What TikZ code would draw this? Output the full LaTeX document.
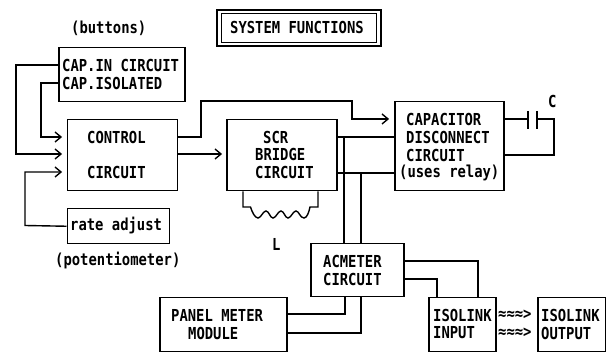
\documentclass[tikz,border=0pt]{standalone}
\usepackage{fontspec}
\usetikzlibrary{calc}
\setmonofont[FakeStretch=0.84]{DejaVu Sans Mono}
\begin{document}
\begin{tikzpicture}[x=1pt,y=-1pt,
  box/.style={draw=black,line width=1.5pt,fill=none,minimum width=0pt,inner sep=0pt},
  wire/.style={draw=black,line width=1.4pt,line join=miter},
  lbl/.style={font=\ttfamily\bfseries\fontsize{16.5}{16.5}\selectfont,anchor=west,inner sep=0pt,text=black},
  tip/.style={draw=black,line width=1.4pt}]
\useasboundingbox (0,0) rectangle (606,352);
% boxes
\node[box,minimum width=126pt,minimum height=54pt,anchor=north west] (btn) at (58,47) {};
\node[box,minimum width=110pt,minimum height=71pt,anchor=north west] (ctl) at (66.5,119) {};
\node[box,minimum width=110pt,minimum height=71pt,anchor=north west] (scr) at (226,119) {};
\node[box,minimum width=109pt,minimum height=89pt,anchor=north west] (cap) at (394,101) {};
\node[box,minimum width=102pt,minimum height=35pt,anchor=north west] (rate) at (66.5,208) {};
\node[box,minimum width=127pt,minimum height=54pt,anchor=north west] (panel) at (159,297) {};
\node[box,minimum width=93pt,minimum height=53pt,anchor=north west] (ac) at (310,243) {};
\node[box,minimum width=67pt,minimum height=54pt,anchor=north west] (isoi) at (428,297) {};
\node[box,minimum width=68pt,minimum height=54pt,anchor=north west] (isoo) at (537,297) {};
% title double box
\node[draw=black,line width=2pt,inner sep=0pt,minimum width=164pt,minimum height=36pt,anchor=north west] (ttl) at (216,9.5) {};
\node[draw=black,line width=1.2pt,inner sep=0pt,minimum width=155pt,minimum height=29pt,anchor=north west] (ttli) at (220.5,13) {};
% texts
\node[lbl] (t0) at (230,27.5) {SYSTEM FUNCTIONS};
\node[lbl] (t1) at (71,28.5) {(buttons)};
\node[lbl] (t2) at (62,65) {CAP.IN CIRCUIT};
\node[lbl] (t3) at (62,83) {CAP.ISOLATED};
\node[lbl] (t4) at (87,137) {CONTROL};
\node[lbl] (t5) at (87,172) {CIRCUIT};
\node[lbl] (t6) at (263,137) {SCR};
\node[lbl] (t7) at (255,154.5) {BRIDGE};
\node[lbl] (t8) at (255,172) {CIRCUIT};
\node[lbl] (t9) at (406,119) {CAPACITOR};
\node[lbl] (t10) at (406,137) {DISCONNECT};
\node[lbl] (t11) at (406,155) {CIRCUIT};
\node[lbl] (t12) at (399,173) {(uses relay)};
\node[lbl] (t13) at (548,101) {C};
\node[lbl] (t14) at (70,226) {rate adjust};
\node[lbl] (t15) at (55,261) {(potentiometer)};
\node[lbl] (t16) at (272,244) {L};
\node[lbl] (t17) at (323,261) {ACMETER};
\node[lbl] (t18) at (323,279) {CIRCUIT};
\node[lbl] (t19) at (171,315) {PANEL METER};
\node[lbl] (t20) at (188,333) {MODULE};
\node[lbl] (t21) at (433,315) {ISOLINK};
\node[lbl] (t22) at (433,333) {INPUT};
\node[lbl] (t23) at (541,315) {ISOLINK};
\node[lbl] (t24) at (541,333) {OUTPUT};
\node[lbl] (t25) at (498,315) {≈≈≈>};
\node[lbl] (t26) at (498,333) {≈≈≈>};
% connectors
\coordinate (a1) at (61,154);
\coordinate (a2) at (61,137);
\coordinate (a3) at (61,172);
\coordinate (a4) at (388,119);
\coordinate (a5) at (221,154);
\draw[wire] (btn.west|-0,65) -- (16,65) -- (16,154) -- (a1);
\draw[wire] (btn.west|-0,83) -- (41,83) -- (41,137) -- (a2);
\draw[wire] (rate.west) -- (25,225.5) -- (25,172) -- (a3);
\draw[wire] (ctl.east|-0,137) -- (201,137) -- (201,101) -- (352,101) -- (352,119) -- (a4);
\draw[wire] (ctl.east|-0,154) -- (a5);
\foreach \p in {a1,a2,a3,a4,a5}{\draw[tip] ($(\p)+(-6,-5)$) -- (\p) -- ($(\p)+(-6,5)$);}
\draw[wire] (scr.east|-0,137) -- (cap.west|-0,137);
\draw[wire] (scr.east|-0,173) -- (cap.west|-0,173);
\draw[wire] (344,137) -- (ac.north-|344,0);
\draw[wire] (361,173) -- (ac.north-|361,0);
\draw[wire] (ac.south-|345,0) -- (345,314) -- (panel.east|-0,314);
\draw[wire] (ac.south-|361,0) -- (361,333) -- (panel.east|-0,333);
\draw[wire] (ac.east|-0,261) -- (478,261) -- (isoi.north-|478,0);
\draw[wire] (ac.east|-0,279) -- (437,279) -- (isoi.north-|437,0);
% capacitor
\coordinate (p1) at (528,119);
\coordinate (p2) at (537,119);
\draw[wire] (cap.east|-0,119) -- (p1);
\draw[wire] (p1|-0,111) -- (p1|-0,129);
\draw[wire] (p2|-0,111) -- (p2|-0,129);
\draw[wire] (p2) -- (554,119) -- (554,155) -- (cap.east|-0,155);
% inductor
\draw[wire] (scr.south-|243,0) -- (243,207) -- (250.5,207)
  .. controls (252,212) and (255,218) .. (258,218)
  .. controls (261,218) and (263,211) .. (266,211)
  .. controls (269,211) and (270,218) .. (273,218)
  .. controls (276,218) and (278,211) .. (281,211)
  .. controls (284,211) and (285,218) .. (288,218)
  .. controls (291,218) and (293,211) .. (296,211)
  .. controls (299,211) and (300,218) .. (304,218)
  .. controls (307,218) and (309,212) .. (310,207)
  -- (318,207) -- (scr.south-|318,0);
\end{tikzpicture}
\end{document}
